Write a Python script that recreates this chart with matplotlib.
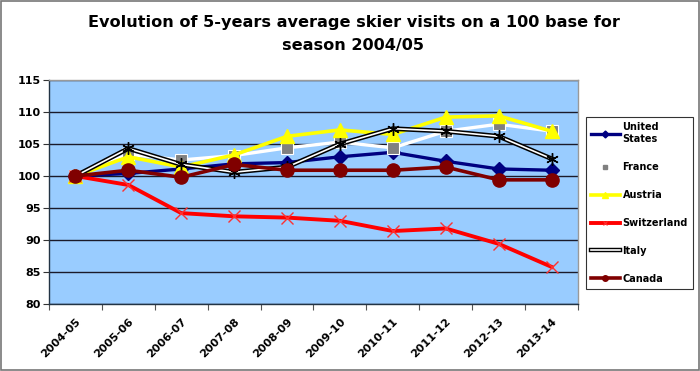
import matplotlib
matplotlib.use("Agg")
import matplotlib.pyplot as plt
import matplotlib.patheffects as pe
from matplotlib.lines import Line2D
from matplotlib.patches import Rectangle

seasons = ["2004-05", "2005-06", "2006-07", "2007-08", "2008-09",
           "2009-10", "2010-11", "2011-12", "2012-13", "2013-14"]
united_states = [100, 100.4, 101.1, 101.9, 102.1, 103.0, 103.7, 102.3, 101.1, 100.9]
france = [100, 103.4, 102.5, 103.2, 104.4, 105.3, 104.4, 107.0, 108.1, 107.0]
austria = [100, 103.0, 101.4, 103.3, 106.2, 107.2, 106.5, 109.2, 109.4, 107.0]
switzerland = [100, 98.6, 94.2, 93.7, 93.5, 93.0, 91.4, 91.8, 89.4, 85.8]
italy = [100, 104.3, 101.8, 100.6, 101.4, 105.0, 107.4, 107.0, 106.2, 102.7]
canada = [100, 100.9, 99.8, 101.8, 100.9, 100.9, 100.9, 101.4, 99.4, 99.4]
yticks = [80, 85, 90, 95, 100, 105, 110, 115]

FONT = ["DejaVu Sans"]
fig = plt.figure(figsize=(7.0, 3.71), dpi=100)
ax = fig.add_axes([49/700, 1-304/371, (578-49)/700, (304-80)/371])
ax.set_facecolor("#99CCFF")

x = list(range(len(seasons)))

ax.plot(x, united_states, color="#000080", lw=2.4, marker="D", ms=7,
        mfc="#000080", mec="#000080", zorder=3)
ax.plot(x, france, color="white", lw=2.4, marker="s", ms=8,
        mfc="#808080", mec="white", mew=0.8, zorder=4)
ax.plot(x, austria, color="#FFFF00", lw=2.6, marker="^", ms=10,
        mfc="#FFFF00", mec="#FFFF00", zorder=5)
ax.plot(x, switzerland, color="#FF0000", lw=2.8, marker="x", ms=8,
        mec="#FF3030", mew=1.0, zorder=6)
ax.plot(x, italy, color="white", lw=1.2, zorder=7,
        path_effects=[pe.Stroke(linewidth=3.4, foreground="black"), pe.Normal()])
ax.plot(x, italy, ls="none", marker=(6, 2, 0), ms=9, mec="black", mew=1.0,
        zorder=7.5)
ax.plot(x, canada, color="#800000", lw=2.6, marker="o", ms=9.5,
        mfc="#800000", mec="#800000", zorder=8)

ax.set_xlim(-0.5, len(seasons) - 0.5)
ax.set_ylim(80, 115)
ax.set_yticks(yticks)
ax.set_yticklabels([str(v) for v in yticks], fontsize=8, fontweight="bold",
                   family=FONT)
ax.tick_params(axis="y", direction="out", length=4, width=0.8, pad=2,
               color="#333333")
ax.set_xticks(x)
ax.set_xticklabels(seasons, rotation=45, ha="right", rotation_mode="anchor",
                   fontsize=8, fontweight="bold", family=FONT)
ax.tick_params(axis="x", which="major", length=0, pad=9)
ax.set_xticks([i - 0.5 for i in range(len(seasons) + 1)], minor=True)
ax.tick_params(axis="x", which="minor", direction="out", length=4, width=0.8,
               color="#555555")

ax.grid(axis="y", color="#1a1a2a", lw=1.0, zorder=1)
ax.set_axisbelow(True)
for s in ["left", "bottom"]:
    ax.spines[s].set_color("#223344")
    ax.spines[s].set_linewidth(1.0)
for s in ["top", "right"]:
    ax.spines[s].set_color("#999999")
    ax.spines[s].set_linewidth(1.0)

labels = ["United\nStates", "France", "Austria", "Switzerland", "Italy", "Canada"]
handles = [
    Line2D([], [], color="#000080", lw=2.4, marker="D", ms=3.5, mfc="#000080", mec="#000080"),
    Line2D([], [], color="white", lw=2.4, marker="s", ms=3.5, mfc="#808080", mec="#808080"),
    Line2D([], [], color="#FFFF00", lw=2.6, marker="^", ms=4, mfc="#FFFF00", mec="#FFFF00"),
    Line2D([], [], color="#FF0000", lw=2.8, marker="x", ms=3.5, mec="#FF3030", mew=0.8),
    Line2D([], [], color="white", lw=1.2,
           path_effects=[pe.Stroke(linewidth=3.2, foreground="black"), pe.Normal()]),
    Line2D([], [], color="#800000", lw=2.6, marker="o", ms=4, mfc="#800000", mec="#800000"),
]
leg = fig.legend(handles, labels, loc="upper left",
                 bbox_to_anchor=(586/700, 1-117/371),
                 prop={"family": FONT, "weight": "bold", "size": 7.0},
                 frameon=True, fancybox=False, edgecolor="black",
                 handlelength=2.9, handletextpad=0.3, labelspacing=1.85,
                 borderpad=0.55, borderaxespad=0)
leg.get_frame().set_linewidth(0.8)

fig.text(0.505, 1-34/371, "Evolution of 5-years average skier visits on a 100 base for\nseason 2004/05",
         ha="center", va="center", fontsize=11.6, fontweight="bold",
         family=FONT, linespacing=1.6)

fig.patches.append(Rectangle((0.001, 0.002), 0.997, 0.995, transform=fig.transFigure,
                             fill=False, edgecolor="#777777", lw=1.2))

fig.savefig("out.png", dpi=100)
